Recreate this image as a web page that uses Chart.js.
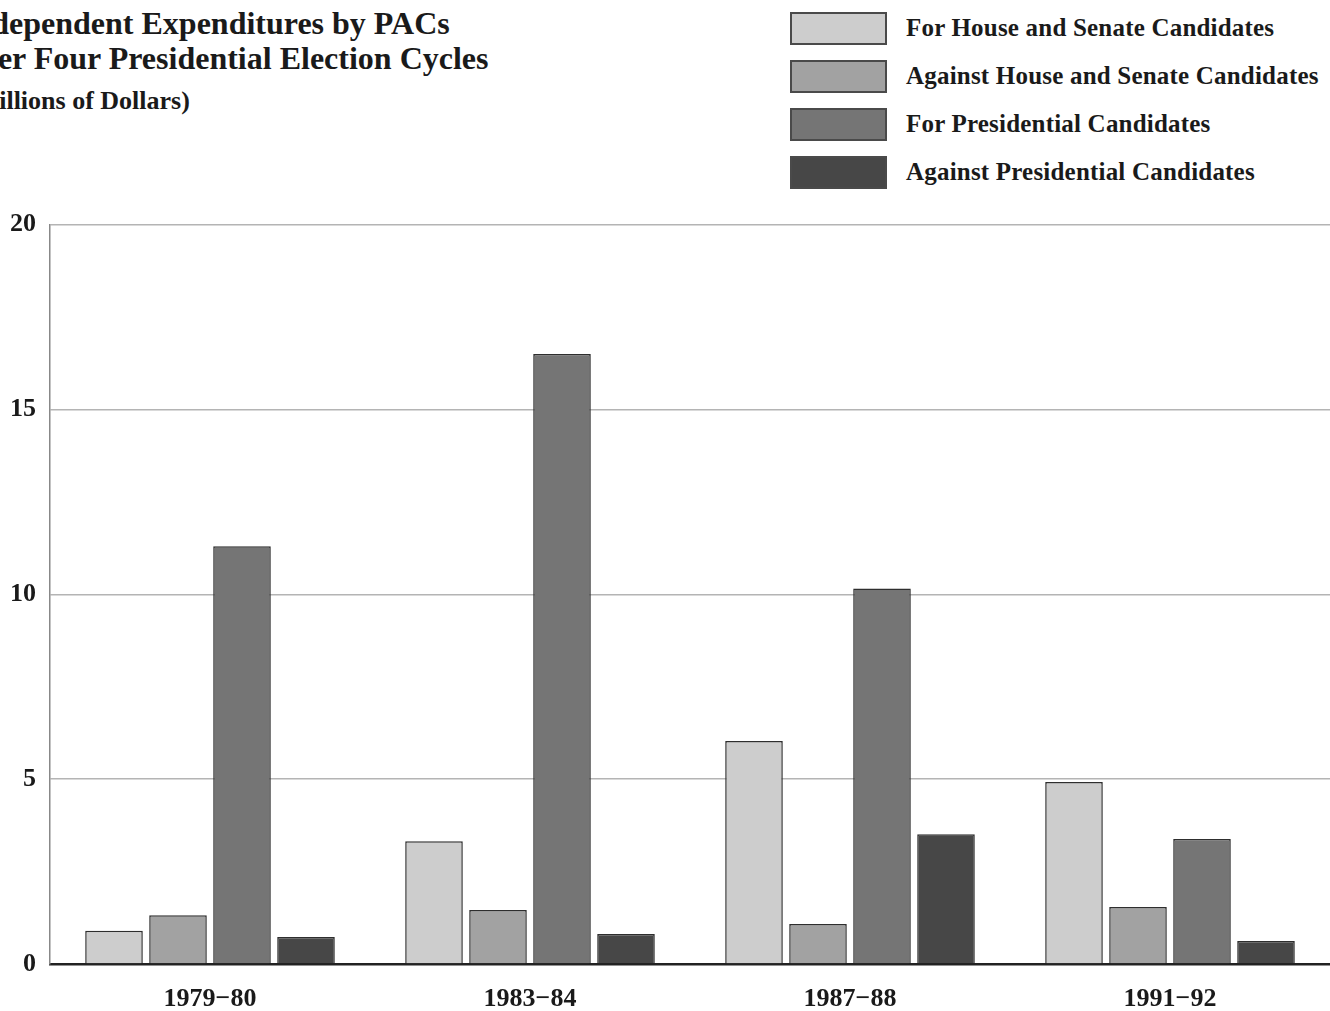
<!DOCTYPE html>
<html>
<head>
<meta charset="utf-8">
<script src="https://cdn.jsdelivr.net/npm/chart.js@4/dist/chart.umd.min.js"></script>
<style>
  html, body { margin: 0; padding: 0; background: #fff; overflow: hidden; }
  body { width: 1330px; height: 1011px; position: relative; font-family: 'Liberation Serif', 'DejaVu Serif', serif; color: #1a1a1a; }
  .tline { position: absolute; font-weight: bold; white-space: nowrap; }
  .tline.big { font-size: 32px; }
  .tline.small { font-size: 26px; }
  #legend { position: absolute; left: 790px; top: 4px; }
  .item { display: flex; align-items: center; height: 48px; }
  .item .box { width: 97px; height: 33px; box-sizing: border-box; border: 2px solid #4a4a4a; margin-right: 19px; }
  .item .lbl { font-size: 25px; font-weight: bold; white-space: nowrap; letter-spacing: 0.2px; }
  #wrap { position: absolute; left: 0; top: 195px; width: 1330px; height: 816px; }
</style>
</head>
<body>
<div class="tline big" id="t1" style="top:5px"><span class="cut">In</span>dependent Expenditures by PACs</div>
<div class="tline big" id="t2" style="top:40px"><span class="cut">Ov</span>er Four Presidential Election Cycles</div>
<div class="tline small" id="t3" style="top:86px"><span class="cut">(M</span>illions of Dollars)</div>
<div id="legend"></div>
<div id="wrap"><canvas id="myChart"></canvas></div>
<script>
const cycles = ['1979\u221280', '1983\u221284', '1987\u221288', '1991\u221292'];
const seriesNames = [
  'For House and Senate Candidates',
  'Against House and Senate Candidates',
  'For Presidential Candidates',
  'Against Presidential Candidates'
];
const forHouseSenate = [0.9, 3.32, 6.03, 4.92];
const againstHouseSenate = [1.32, 1.46, 1.08, 1.54];
const forPresidential = [11.3, 16.5, 10.16, 3.38];
const againstPresidential = [0.73, 0.81, 3.51, 0.62];
const yTicks = [0, 5, 10, 15, 20];

const fills = ['#cdcdcd', '#a2a2a2', '#757575', '#474747'];
const seriesValues = [forHouseSenate, againstHouseSenate, forPresidential, againstPresidential];

// the scanned title runs off the left edge, so push each line left past its first letters
[['t1', 9], ['t2', 2], ['t3', 1]].forEach(([id, extra]) => {
  const el = document.getElementById(id);
  const cut = el.querySelector('.cut');
  el.style.left = (-cut.offsetWidth - extra) + 'px';
});

const datasets = seriesNames.map((name, i) => ({
  label: name,
  data: seriesValues[i],
  backgroundColor: fills[i],
  borderColor: '#2e2e2e',
  borderWidth: 1.5,
  barPercentage: 0.9,
  categoryPercentage: 0.8
}));

// legend in html, stacked like the original
const legendEl = document.getElementById('legend');
datasets.forEach(ds => {
  const row = document.createElement('div');
  row.className = 'item';
  row.innerHTML = '<div class="box" style="background:' + ds.backgroundColor + '"></div><div class="lbl">' + ds.label + '</div>';
  legendEl.appendChild(row);
});

const tickFont = { family: "'Liberation Serif', serif", size: 26, weight: 'bold' };

new Chart(document.getElementById('myChart'), {
  type: 'bar',
  data: { labels: cycles, datasets: datasets },
  options: {
    responsive: true,
    maintainAspectRatio: false,
    animation: false,
    layout: { padding: { top: 19, right: 0, left: 0, bottom: 0 } },
    plugins: {
      legend: { display: false },
      tooltip: { enabled: false }
    },
    scales: {
      x: {
        grid: { display: false, drawTicks: false },
        border: { color: '#222', width: 2.5 },
        ticks: { color: '#1a1a1a', font: tickFont, padding: 20 },
        afterFit: (scale) => { scale.height = 47; }
      },
      y: {
        min: 0,
        max: 20,
        afterBuildTicks: (scale) => { scale.ticks = yTicks.map(v => ({ value: v })); },
        grid: { color: '#b4b4b4', lineWidth: 1.5, drawTicks: false },
        border: { color: '#888', width: 1.5 },
        ticks: { color: '#1a1a1a', font: tickFont, padding: 14 },
        afterFit: (scale) => { scale.width = 50; }
      }
    }
  }
});
</script>
</body>
</html>
